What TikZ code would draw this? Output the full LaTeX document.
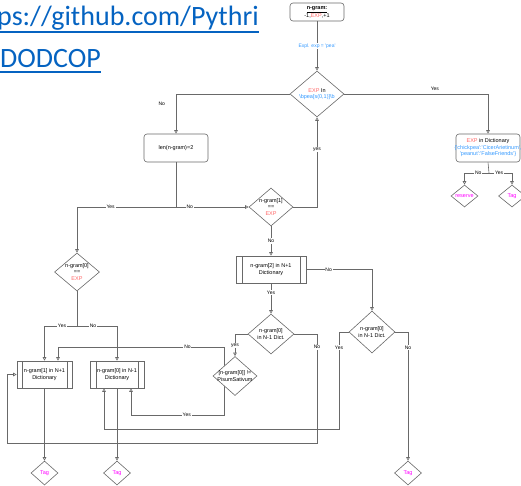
\documentclass[tikz,border=0pt]{standalone}
\usepackage{fontspec}
\setmainfont{Liberation Sans}
\newfontfamily\linkfont{Carlito}
\usetikzlibrary{shapes.geometric,arrows.meta,calc,backgrounds}
\definecolor{linegray}{RGB}{105,105,105}
\definecolor{expred}{RGB}{255,102,102}
\definecolor{codeblue}{RGB}{51,153,255}
\definecolor{tagpink}{RGB}{255,0,255}
\definecolor{linkblue}{RGB}{5,99,193}
\newcommand{\sq}{\textquotesingle}
\begin{document}
\begin{tikzpicture}[x=1pt,y=-1pt,
  font=\fontsize{5.5}{6.5}\selectfont,
  >={Triangle[open,length=3.5pt,width=3.5pt]},
  flow/.style={draw=linegray, line width=0.6pt},
  conn/.style={flow, ->},
  rbox/.style={draw=linegray, line width=0.6pt, rounded corners=3pt, fill=white, align=center, inner sep=1pt},
  pbox/.style={draw=linegray, line width=0.6pt, fill=white, align=center, inner sep=1pt,
    path picture={\draw[linegray, line width=0.6pt]
      ([xshift=#1]path picture bounding box.north west) -- ([xshift=#1]path picture bounding box.south west)
      ([xshift=-#1]path picture bounding box.north east) -- ([xshift=-#1]path picture bounding box.south east);}},
  pbox/.default=6pt,
  dia/.style={diamond, draw=linegray, line width=0.6pt, fill=white, inner sep=0pt},
  dtext/.style={align=center, inner sep=0pt},
  lbl/.style={fill=white, inner sep=0.8pt, font=\fontsize{5}{6}\selectfont},
  tagtext/.style={dtext, text=tagpink},
  link/.style={anchor=base west, inner sep=0pt, font=\linkfont\fontsize{28}{28}\selectfont, text=linkblue}]
\useasboundingbox (0,0) rectangle (521,486);
\clip (0,0) rectangle (521,486);

% hyperlink text in the upper left corner
\node[link] (url1) at (-3,26) {ps://github.com/Pythri};
\node[link] (url2) at (0,68) {DODCOP};
\draw[linkblue, line width=1.6pt] ([yshift=-6pt]url1.base west) -- ([yshift=-6pt]url1.base east);
\draw[linkblue, line width=1.6pt] ([yshift=-4pt]url2.base west) -- ([yshift=-4pt]url2.base east);

% nodes of the flowchart
\node[rbox, minimum width=54pt, minimum height=18pt] (top) at (317,12)
  {\textbf{\underline{n-gram:}}\\-1,\textcolor{expred}{EXP},+1};
\node[dia, minimum width=54pt, minimum height=46pt,
  label={[dtext]center:{\textcolor{expred}{EXP} In\\\textcolor{codeblue}{\textbackslash bpea[s(0,1)]\textbackslash b}}}] (d1) at (317,94) {};
\node[rbox, minimum width=64pt, minimum height=28pt] (len) at (176,148) {len(n-gram)=2};
\node[rbox, minimum width=64pt, minimum height=28pt,
  label={[dtext]center:{\textcolor{expred}{EXP} in Dictionary\\\textcolor{codeblue}{\{\sq chickpea\sq:\sq CicerArietinum\sq,}\\\textcolor{codeblue}{\sq peanut\sq:\sq FalseFriends\sq\}}}}] (dict) at (488,148) {};
\node[dia, minimum width=27pt, minimum height=22pt, label={[tagtext]center:reserve}] (res) at (464.5,196) {};
\node[dia, minimum width=27pt, minimum height=22pt, label={[tagtext]center:Tag}] (tag4) at (512,196) {};

\node[dia, minimum width=44pt, minimum height=38pt,
  label={[dtext]center:{n-gram[1]\\==\\\textcolor{expred}{EXP}}}] (n1) at (271,207) {};
\node[pbox, minimum width=70pt, minimum height=27pt] (n2) at (271,269.5) {n-gram[2] in N+1\\Dictionary};
\node[dia, minimum width=46pt, minimum height=40pt,
  label={[dtext]center:{n-gram[0]\\in N-1 Dict.}}] (dl) at (271,334) {};
\node[dia, minimum width=46pt, minimum height=42pt,
  label={[dtext]center:{n-gram[0]\\in N-1 Dict.}}] (dr) at (372,332) {};
\node[dia, minimum width=44pt, minimum height=39pt,
  label={[dtext]center:{[n-gram[0]] !=\\PisumSativum}}] (ps) at (235,376) {};

\node[dia, minimum width=45pt, minimum height=38pt,
  label={[dtext]center:{n-gram[0]\\==\\\textcolor{expred}{EXP}}}] (e0) at (77,272) {};
\node[pbox=5pt, minimum width=55pt, minimum height=27pt] (b1) at (44.5,374.5) {n-gram[1] in N+1\\Dictionary};
\node[pbox=6pt, minimum width=54pt, minimum height=27pt] (b2) at (117,374.5) {n-gram[0] in N-1\\Dictionary};

\node[dia, minimum width=27pt, minimum height=24pt, label={[tagtext]center:Tag}] (tag1) at (44.5,473) {};
\node[dia, minimum width=27pt, minimum height=24pt, label={[tagtext]center:Tag}] (tag2) at (117,473) {};
\node[dia, minimum width=27pt, minimum height=24pt, label={[tagtext]center:Tag}] (tag3) at (408,473) {};

% bend and junction points of the connectors
\coordinate (j1) at (176,207);
\coordinate (jy) at (77,326);
\coordinate (jd) at (489,173);
\coordinate (lpA) at (317,443);
\coordinate (yr) at (339,429);
\coordinate (px) at (224,376);
\coordinate (pn) at (58,347);
\coordinate (pyes) at (131,415);

% connectors
\begin{scope}[on background layer]
\draw[conn] (top) -- node[lbl, text=codeblue] {Expl. exp = \sq pea\sq} (d1.north);
\draw[conn] (d1.west) -| node[pos=0.62, lbl, left=10pt, fill=none] {No} (len.north);
\draw[conn] (d1.east) -| node[pos=0.315, lbl, above=2pt, fill=none] {Yes} (dict.north);
\draw[flow] (len.south) -- (j1);
\draw[conn] (j1) -| node[pos=0.33, lbl] {Yes} (e0.north);
\draw[conn] (j1) -- node[pos=0.19, lbl] {No} (n1.west);
\draw[conn] (n1.east) -| node[pos=0.82, lbl] {yes} (d1.south);
\draw[conn] (n1.south) -- node[lbl] {No} (n2.north);
\draw[conn] (n2.east) -| node[pos=0.17, lbl] {No} (dr.north);
\draw[conn] (n2.south) -- node[pos=0.31, lbl] {Yes} (dl.north);
\draw[conn] (dl.west) -| node[pos=0.76, lbl] {yes} (ps.north);
\draw[conn] (dl.east) -| node[pos=0.56, lbl] {No} (lpA) -| ([xshift=-9pt]b1.west) -- (b1.west);
\draw[conn] (dr.west) -| node[pos=0.58, lbl] {Yes} (yr) -| ([xshift=-13pt]b2.south);
\draw[conn] (dr.east) -| node[pos=0.56, lbl] {No} (tag3.north);
\draw[flow] (e0.south) -- (jy);
\draw[conn] (jy) -| node[pos=0.23, lbl] {Yes} (b1.north);
\draw[conn] (jy) -| node[pos=0.2, lbl] {No} (b2.north);
\draw[conn] (px) |- node[pos=0.61, lbl] {No} (pn) -- (pn |- b1.north);
\draw[conn] (px) |- node[pos=0.7, lbl] {Yes} (pyes) -- (pyes |- b2.south);
\draw[conn] (b1.south) -- (tag1.north);
\draw[conn] (b2.south) -- (tag2.north);
\draw[flow] (dict.south) -- (jd);
\draw[conn] (jd) -| node[pos=0.22, lbl] {No} (res.north);
\draw[conn] (jd) -| node[pos=0.22, lbl] {Yes} (tag4.north);
\end{scope}
\end{tikzpicture}
\end{document}
